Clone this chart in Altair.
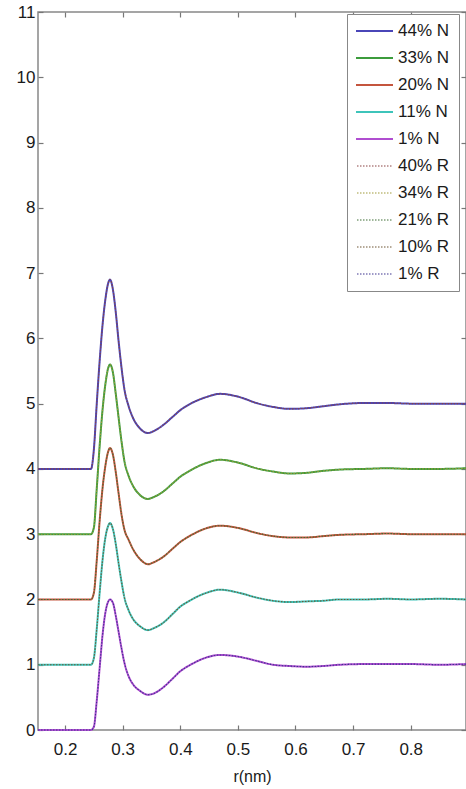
import altair as alt
import pandas as pd

# radial distance (nm), shared sampling of the read-off curves
r_nm = [0.153, 0.20, 0.245, 0.25, 0.255, 0.26, 0.265, 0.27, 0.275, 0.278, 0.283, 0.288,
        0.293, 0.298, 0.303, 0.31, 0.318, 0.33, 0.344, 0.354, 0.37, 0.387, 0.40, 0.416,
        0.445, 0.469, 0.503, 0.532, 0.561, 0.59, 0.619, 0.648, 0.677, 0.72, 0.76, 0.80,
        0.85, 0.896]

series_names = ["44% N", "33% N", "20% N", "11% N", "1% N",
                "40% R", "34% R", "21% R", "10% R", "1% R"]
series_kind = ["N", "N", "N", "N", "N", "R", "R", "R", "R", "R"]
offsets = [4, 3, 2, 1, 0, 4, 3, 2, 1, 0]

g_44N = [0, 0, 0, 0.3, 1.0, 1.65, 2.2, 2.6, 2.85, 2.9, 2.75, 2.4, 1.95, 1.55, 1.22, 0.97,
         0.78, 0.62, 0.55, 0.58, 0.67, 0.8, 0.9, 0.99, 1.1, 1.15, 1.1, 1.01, 0.95, 0.92,
         0.93, 0.96, 0.99, 1.01, 1.01, 1.0, 1.0, 1.0]
g_33N = [0, 0, 0, 0.1, 0.7, 1.35, 1.9, 2.3, 2.55, 2.6, 2.48, 2.15, 1.78, 1.42, 1.12, 0.9,
         0.74, 0.6, 0.54, 0.57, 0.65, 0.78, 0.88, 0.97, 1.09, 1.14, 1.09, 1.01, 0.96, 0.93,
         0.94, 0.97, 0.99, 1.0, 1.01, 1.0, 1.0, 1.01]
g_20N = [0, 0, 0, 0.1, 0.6, 1.2, 1.7, 2.05, 2.27, 2.32, 2.22, 1.95, 1.62, 1.3, 1.07, 0.92,
         0.77, 0.62, 0.54, 0.57, 0.65, 0.78, 0.88, 0.97, 1.09, 1.13, 1.09, 1.02, 0.97, 0.95,
         0.95, 0.97, 0.99, 1.0, 1.01, 1.0, 1.0, 1.0]
g_11N = [0, 0, 0, 0.1, 0.55, 1.1, 1.6, 1.95, 2.13, 2.17, 2.08, 1.85, 1.55, 1.27, 1.03, 0.84,
         0.7, 0.59, 0.53, 0.56, 0.64, 0.78, 0.89, 0.98, 1.1, 1.15, 1.1, 1.03, 0.98, 0.96,
         0.97, 0.98, 1.0, 1.0, 1.01, 1.0, 1.01, 1.0]
g_1N = [0, 0, 0, 0.05, 0.45, 0.95, 1.45, 1.8, 1.97, 2.0, 1.95, 1.75, 1.5, 1.25, 1.03, 0.83,
        0.7, 0.6, 0.54, 0.56, 0.65, 0.79, 0.9, 0.99, 1.11, 1.15, 1.12, 1.06, 1.0, 0.98,
        0.97, 0.98, 1.0, 1.01, 1.01, 1.01, 1.0, 1.01]
# the R curves lie on top of the matching N curves in the picture
g_40R = [0, 0, 0, 0.3, 1.0, 1.65, 2.2, 2.6, 2.85, 2.9, 2.75, 2.4, 1.95, 1.55, 1.22, 0.97,
         0.78, 0.62, 0.55, 0.58, 0.67, 0.8, 0.9, 0.99, 1.1, 1.15, 1.1, 1.01, 0.95, 0.92,
         0.93, 0.96, 0.99, 1.01, 1.01, 1.0, 1.0, 1.0]
g_34R = [0, 0, 0, 0.1, 0.7, 1.35, 1.9, 2.3, 2.55, 2.6, 2.48, 2.15, 1.78, 1.42, 1.12, 0.9,
         0.74, 0.6, 0.54, 0.57, 0.65, 0.78, 0.88, 0.97, 1.09, 1.14, 1.09, 1.01, 0.96, 0.93,
         0.94, 0.97, 0.99, 1.0, 1.01, 1.0, 1.0, 1.01]
g_21R = [0, 0, 0, 0.1, 0.6, 1.2, 1.7, 2.05, 2.27, 2.32, 2.22, 1.95, 1.62, 1.3, 1.07, 0.92,
         0.77, 0.62, 0.54, 0.57, 0.65, 0.78, 0.88, 0.97, 1.09, 1.13, 1.09, 1.02, 0.97, 0.95,
         0.95, 0.97, 0.99, 1.0, 1.01, 1.0, 1.0, 1.0]
g_10R = [0, 0, 0, 0.1, 0.55, 1.1, 1.6, 1.95, 2.13, 2.17, 2.08, 1.85, 1.55, 1.27, 1.03, 0.84,
         0.7, 0.59, 0.53, 0.56, 0.64, 0.78, 0.89, 0.98, 1.1, 1.15, 1.1, 1.03, 0.98, 0.96,
         0.97, 0.98, 1.0, 1.0, 1.01, 1.0, 1.01, 1.0]
g_1R = [0, 0, 0, 0.05, 0.45, 0.95, 1.45, 1.8, 1.97, 2.0, 1.95, 1.75, 1.5, 1.25, 1.03, 0.83,
        0.7, 0.6, 0.54, 0.56, 0.65, 0.79, 0.9, 0.99, 1.11, 1.15, 1.12, 1.06, 1.0, 0.98,
        0.97, 0.98, 1.0, 1.01, 1.01, 1.01, 1.0, 1.01]

series_values = [g_44N, g_33N, g_20N, g_11N, g_1N, g_40R, g_34R, g_21R, g_10R, g_1R]

colors = ["#4a46b8", "#3c9c3c", "#c4553e", "#3ec4ba", "#b04ed0",
          "#8a4444", "#a09a3a", "#3e6e34", "#6e5634", "#3e3490"]
dashes = [[1, 0]] * 5 + [[1.5, 1.5]] * 5
widths = [2, 2, 2, 2, 2, 1.1, 1.1, 1.1, 1.1, 1.1]

rows = []
for name, kind, off, vals in zip(series_names, series_kind, offsets, series_values):
    for r, g in zip(r_nm, vals):
        rows.append({"r": r, "y": g + off, "series": name, "kind": kind})
df = pd.DataFrame(rows)

FONT = "Liberation Sans"
x_scale = alt.Scale(domain=[0.153, 0.896], nice=False, zero=False)
y_scale = alt.Scale(domain=[0, 11], nice=False, zero=False)

legend = alt.Legend(
    orient="none", legendX=309, legendY=2, symbolType="stroke", symbolSize=1521,
    clipHeight=16, rowPadding=10, labelFontSize=17, labelFont=FONT, labelColor="#1a1a1a",
    padding=9, symbolOffset=-3, labelOffset=4, strokeColor="#888", fillColor="white",
)

enc_common = dict(
    color=alt.Color("series:N", scale=alt.Scale(domain=series_names, range=colors),
                    legend=legend, title=None),
    strokeDash=alt.StrokeDash("series:N", scale=alt.Scale(domain=series_names, range=dashes),
                              legend=legend, title=None),
    strokeWidth=alt.StrokeWidth("series:N",
                                scale=alt.Scale(type="ordinal", domain=series_names, range=widths),
                                legend=legend, title=None),
    order=alt.Order("r:Q"),
)

tick_axis = dict(domain=False, grid=False, tickSize={"expr": "-5"}, tickColor="#777",
                 tickWidth=1.2)

layer_n = alt.Chart(df).transform_filter(alt.datum.kind == "N").mark_line(
    interpolate="monotone").encode(
    x=alt.X("r:Q", scale=x_scale, title="r(nm)",
            axis=alt.Axis(orient="bottom", values=[0.2, 0.3, 0.4, 0.5, 0.6, 0.7, 0.8],
                          format=".1f", labelFontSize=17, labelFont=FONT, labelColor="#1a1a1a",
                          labelPadding=16, titleFont=FONT, titleFontSize=16,
                          titleFontWeight="normal", titleColor="#1a1a1a", titlePadding=11,
                          **tick_axis)),
    y=alt.Y("y:Q", scale=y_scale, title=None,
            axis=alt.Axis(orient="left", values=list(range(0, 12)), labelFontSize=17,
                          labelFont=FONT, labelColor="#1a1a1a", labelPadding=8, **tick_axis)),
    **enc_common,
)

layer_r = alt.Chart(df).transform_filter(alt.datum.kind == "R").mark_line(
    interpolate="monotone").encode(
    x=alt.X("r:Q", scale=x_scale, title=None,
            axis=alt.Axis(orient="top", values=[0.2, 0.3, 0.4, 0.5, 0.6, 0.7, 0.8],
                          labels=False, **tick_axis)),
    y=alt.Y("y:Q", scale=y_scale, title=None,
            axis=alt.Axis(orient="right", values=list(range(0, 12)), labels=False,
                          **tick_axis)),
    **enc_common,
)

chart = alt.layer(layer_n, layer_r).resolve_axis(x="independent", y="independent").properties(
    width=428, height=718,
    autosize=alt.AutoSizeParams(type="none"),
    padding={"left": 38, "top": 12, "right": 0, "bottom": 59},
    background="white",
).configure_view(stroke="#888", strokeWidth=1.5)

chart.save("out.html", embed_options={"renderer": "svg", "actions": False})
